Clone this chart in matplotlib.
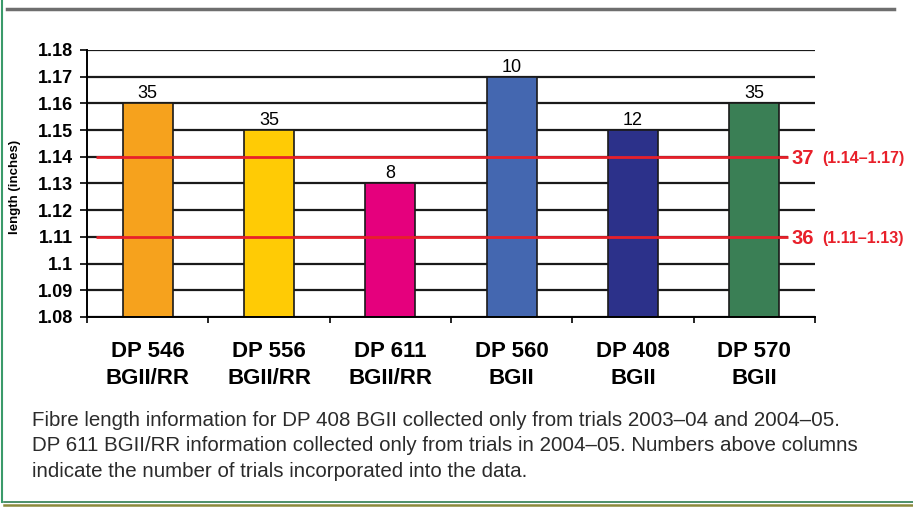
import matplotlib.pyplot as plt
import numpy as np
from matplotlib.lines import Line2D

varieties = ["DP 546\nBGII/RR", "DP 556\nBGII/RR", "DP 611\nBGII/RR",
             "DP 560\nBGII", "DP 408\nBGII", "DP 570\nBGII"]
lengths = [1.16, 1.15, 1.13, 1.17, 1.15, 1.16]
trials = [35, 35, 8, 10, 12, 35]
bar_colors = ["#F6A21D", "#FFCB05", "#E5007D", "#4467B0", "#2C318A", "#3A7F55"]
y_ticks = [1.08, 1.09, 1.1, 1.11, 1.12, 1.13, 1.14, 1.15, 1.16, 1.17, 1.18]
y_tick_labels = ["1.08", "1.09", "1.1", "1.11", "1.12", "1.13", "1.14", "1.15", "1.16", "1.17", "1.18"]
grade_lines = [1.14, 1.11]
grade_codes = ["37", "36"]
grade_ranges = ["(1.14\u20131.17)", "(1.11\u20131.13)"]
caption = ("Fibre length information for DP 408 BGII collected only from trials 2003\u201304 and 2004\u201305.\n"
           "DP 611 BGII/RR information collected only from trials in 2004\u201305. Numbers above columns\n"
           "indicate the number of trials incorporated into the data.")

sans = ["Liberation Sans", "DejaVu Sans"]
red = "#E8202A"
line_start, line_end = -0.426, 5.276

fig = plt.figure(figsize=(9.13, 5.08), dpi=100)
ax = fig.add_axes([0.0953, 0.376, 0.7974, 0.5256])

x = np.arange(len(varieties))
ax.set_xlim(-0.5, len(varieties) - 0.5)
ax.set_ylim(1.08, 1.18)

# horizontal gridlines (the ones under a grade line stop where it stops)
for yv in y_ticks:
    x_right = line_end if any(abs(yv - g) < 1e-9 for g in grade_lines) else len(varieties) - 0.5
    ax.hlines(yv, -0.5, x_right, color="#1a1a1a", linewidth=1.6, zorder=1)

ax.bar(x, [v - 1.08 for v in lengths], bottom=1.08, width=0.41,
       color=bar_colors, edgecolor="#1a1a1a", linewidth=1.2, zorder=2)

for xi, v, n in zip(x, lengths, trials):
    ax.text(xi, v + 0.0019, str(n), ha="center", va="baseline",
            fontsize=13, family=sans)

# fibre length grade lines
for yv, code, rng in zip(grade_lines, grade_codes, grade_ranges):
    ax.plot([line_start, line_end], [yv, yv], color=red, linewidth=2, zorder=3,
            solid_capstyle="butt")
    ax.text(5.309, yv, code, ha="left", va="center_baseline",
            fontsize=14.5, fontweight="bold", color=red, family=sans, clip_on=False)
    ax.text(5.556, yv, rng, ha="left", va="center_baseline",
            fontsize=11.5, fontweight="bold", color=red, family=sans, clip_on=False)

ax.set_yticks(y_ticks)
ax.set_yticklabels(y_tick_labels, fontsize=13, fontweight="bold", family=sans)
ax.tick_params(axis="y", length=5, width=1.2, pad=5)

ax.set_xticks(np.arange(-0.5, len(varieties), 1.0))
ax.set_xticklabels([])
ax.tick_params(axis="x", length=4.5, width=1.2)
for xi, lab in zip(x, varieties):
    ax.text(xi, -0.09, lab, transform=ax.get_xaxis_transform(), ha="center",
            va="top", fontsize=16, fontweight="bold", family=sans,
            linespacing=1.36)

for side in ["top", "right"]:
    ax.spines[side].set_visible(False)
ax.spines["left"].set_linewidth(1.4)
ax.spines["bottom"].set_linewidth(1.4)

fig.text(0.0165, 0.632, "length (inches)", rotation=90, ha="center", va="center",
         fontsize=9.5, fontweight="bold", family=sans)

fig.text(0.035, 0.191, caption, ha="left", va="top", fontsize=14.8,
         color="#2b2b2b", family=sans, linespacing=1.43)

# frame decorations
fig.add_artist(Line2D([0.008, 0.979], [0.982, 0.982], color="#6E6E6E", linewidth=2.5))
fig.add_artist(Line2D([0.0025, 0.0025], [0.012, 1.0], color="#3A9A6A", linewidth=1.5))
fig.add_artist(Line2D([0.004, 1.0], [0.012, 0.012], color="#2E7D50", linewidth=1.2))
fig.add_artist(Line2D([0.004, 1.0], [0.006, 0.006], color="#8C8A3C", linewidth=1.8))

fig.savefig("out.png", dpi=100)
